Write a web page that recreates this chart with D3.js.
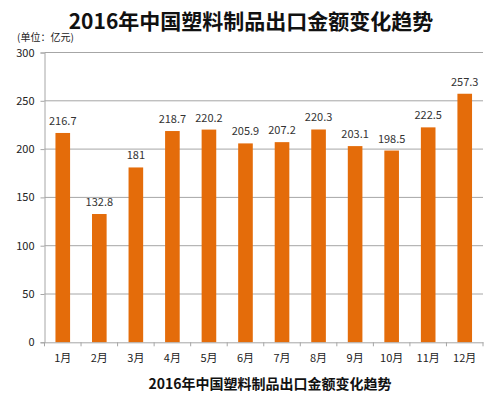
<!DOCTYPE html>
<html><head><meta charset="utf-8">
<script src="https://cdn.jsdelivr.net/npm/d3@7"></script>
<style>body{margin:0;background:#fff}svg{display:block}</style>
</head><body>
<script>
const months = ["1月","2月","3月","4月","5月","6月","7月","8月","9月","10月","11月","12月"];
const values = [216.7,132.8,181,218.7,220.2,205.9,207.2,220.3,203.1,198.5,222.5,257.3];
const labels = ["216.7","132.8","181","218.7","220.2","205.9","207.2","220.3","203.1","198.5","222.5","257.3"];
const yTicks = [0,50,100,150,200,250,300];
const title = "2016年中国塑料制品出口金额变化趋势";
const unit = "(单位：亿元)";

const W=502,H=398;
const font='"Noto Sans CJK SC","Noto Sans",sans-serif';
const svg=d3.select("body").append("svg").attr("width",W).attr("height",H);
const pL=44.5,pR=483,pT=52.5,pB=342.3;
const x=d3.scaleBand().domain(months).range([pL,pR]).paddingInner(0.6).paddingOuter(0.3);
const xb=d3.scaleBand().domain(months).range([pL,pR]);
const y=d3.scaleLinear().domain([0,300]).range([pB,pT]);

svg.append("g").selectAll("line").data(yTicks.filter(d=>d>0)).join("line")
  .attr("x1",pL).attr("x2",pR).attr("y1",d=>y(d)).attr("y2",d=>y(d))
  .attr("stroke","#a6a6a6").attr("stroke-width",1);

svg.append("g").selectAll("rect").data(values).join("rect")
  .attr("x",(d,i)=>x(months[i])).attr("width",x.bandwidth())
  .attr("y",d=>y(d)).attr("height",d=>pB-y(d)).attr("fill","#e46c0a");

const ya=svg.append("g").attr("transform",`translate(${pL},0)`)
  .call(d3.axisLeft(y).tickValues(yTicks).tickSize(4).tickPadding(6));
ya.select(".domain").attr("stroke","#a6a6a6");
ya.selectAll(".tick line").attr("stroke","#a6a6a6");
ya.selectAll("text").attr("font-family",font).attr("font-size",11).attr("fill","#222");

const xa=svg.append("g").attr("transform",`translate(0,${pB})`)
  .call(d3.axisBottom(xb).tickSize(0).tickPadding(12));
xa.select(".domain").attr("stroke","#a6a6a6");
xa.selectAll("text").attr("font-family",font).attr("font-size",11).attr("fill","#222");
svg.append("g").selectAll("line").data(months.concat(["end"])).join("line")
  .attr("x1",(d,i)=>i<12?xb(d):pR).attr("x2",(d,i)=>i<12?xb(d):pR)
  .attr("y1",pB).attr("y2",pB+4).attr("stroke","#a6a6a6");

svg.append("g").selectAll("text").data(values).join("text")
  .attr("x",(d,i)=>x(months[i])+x.bandwidth()/2).attr("y",d=>y(d)-8)
  .attr("text-anchor","middle").attr("font-family",font).attr("font-size",11).attr("fill","#333")
  .text((d,i)=>labels[i]);

svg.append("text").attr("x",251).attr("y",29).attr("text-anchor","middle")
  .attr("font-family",font).attr("font-size",21).attr("font-weight",700).attr("fill","#111").text(title);
svg.append("text").attr("x",17).attr("y",41)
  .attr("font-family",font).attr("font-size",10).attr("fill","#222").text(unit);
svg.append("text").attr("x",270).attr("y",389).attr("text-anchor","middle")
  .attr("font-family",font).attr("font-size",14).attr("font-weight",700).attr("fill","#111").text(title);
</script>
</body></html>
